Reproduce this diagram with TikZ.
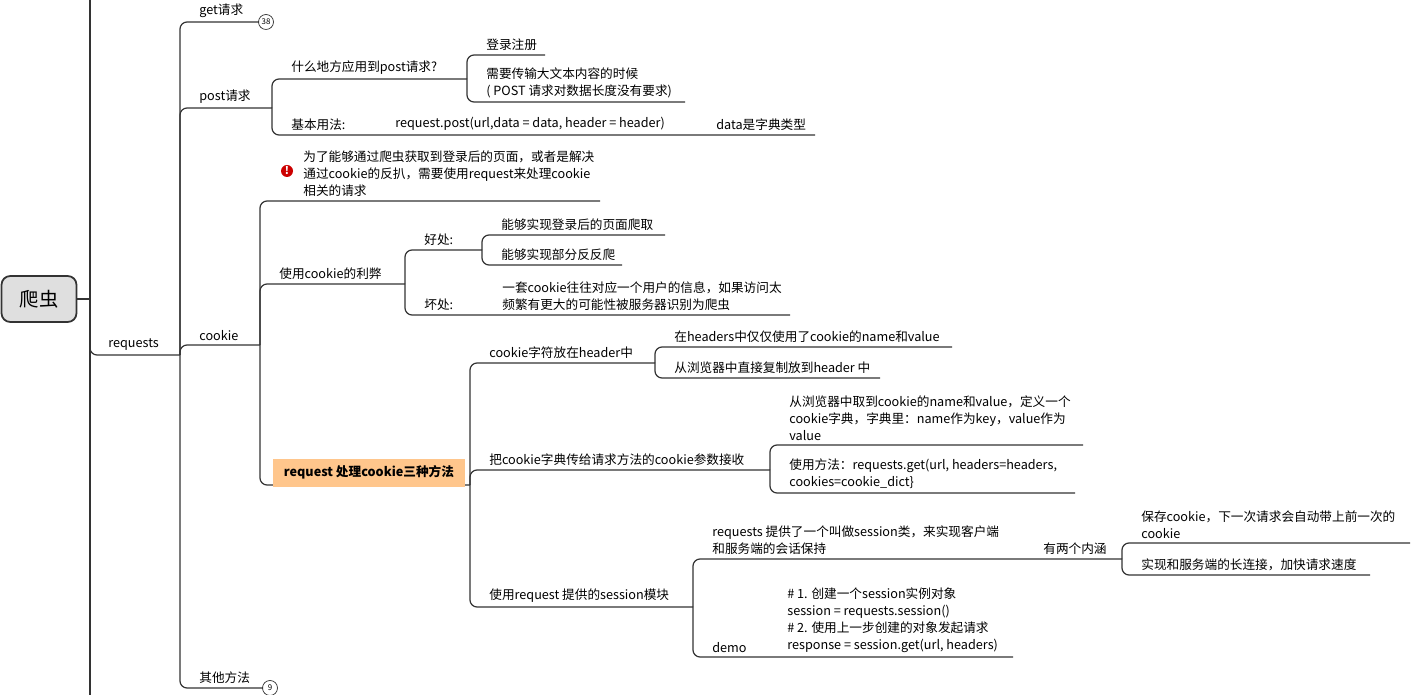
\documentclass[tikz,border=0pt]{standalone}
\usepackage{fontspec}
\setmainfont{Noto Sans CJK SC}
\usetikzlibrary{calc}
\definecolor{ln}{HTML}{333333}
\tikzset{
  conn/.style={draw=ln,line width=0.7pt,rounded corners=4pt},
  lbl/.style={anchor=south west,inner sep=0pt,font=\fontsize{7.2}{9.6}\selectfont,align=left,text=black},
}
\newcommand\br[5]{%
  \coordinate (#2) at (#4,#3);
  \draw[conn] (#1) |- (#2);
  \node[lbl] (#2-t) at ($(#1 |- #2)+(19,-4)$) {#5};}
\begin{document}
\begin{tikzpicture}[x=0.02cm,y=-0.02cm]
\useasboundingbox (0,0) rectangle (1421,695);
% root
\node[draw=ln,line width=1pt,fill=gray!25,rounded corners=5pt,minimum width=1.5cm,minimum height=0.92cm,font=\fontsize{11}{12}\selectfont] (root) at (39,299) {爬虫};
\coordinate (rv) at (90,299);
\draw[conn] (root.east) -- (rv);
\draw[conn] (90,0) -- (90,695);
\coordinate (req) at (180,355);
\draw[conn] (90,300) |- (req);
\node[lbl] (req-t) at (108,351) {requests};
% requests children
\br{req}{get}{22}{259}{get请求}
\node[draw=ln,circle,inner sep=0pt,minimum size=0.3cm,font=\fontsize{4.5}{5}\selectfont] (c38) at (266,22) {38};
\br{req}{post}{108}{272}{post请求}
\br{req}{cookie}{345}{260}{cookie}
\br{req}{other}{688}{263}{其他方法}
\node[draw=ln,circle,inner sep=0pt,minimum size=0.3cm,font=\fontsize{4.5}{5}\selectfont] (c9) at (270,688) {9};
% post
\br{post}{where}{79}{467}{什么地方应用到post请求?}
\br{post}{basic}{135}{815}{基本用法:}
\node[lbl] (rp) at (395,131) {request.post(url,data = data, header = header)};
\node[lbl] (dt) at (716,131) {data是字典类型};
\br{where}{login}{55}{545}{登录注册}
\br{where}{big}{102}{685}{需要传输大文本内容的时候\\( POST 请求对数据长度没有要求)}
% cookie
\coordinate (note) at (600,201);
\draw[conn] (cookie) |- (note);
\node[lbl] (note-t) at (303,197) {为了能够通过爬虫获取到登录后的页面，或者是解决\\通过cookie的反扒，需要使用request来处理cookie\\相关的请求};
\node[circle,fill=red!80!black,inner sep=0pt,minimum size=0.24cm,text=white,font=\fontsize{6}{6}\selectfont\bfseries] (warn) at (287,171) {!};
\br{cookie}{lib}{284}{405}{使用cookie的利弊}
\coordinate (three) at (470,485);
\draw[conn] (cookie) |- (three);
\node[lbl,fill=orange!45,inner xsep=6pt,inner ysep=4pt,font=\fontsize{7.2}{9.6}\selectfont\bfseries] (three-t) at (273,487) {request 处理cookie三种方法};
% lib
\br{lib}{good}{250}{482}{好处:}
\br{lib}{bad}{315}{790}{坏处:}
\node[lbl] (badt) at (502,311) {一套cookie往往对应一个用户的信息，如果访问太\\频繁有更大的可能性被服务器识别为爬虫};
\br{good}{g1}{235}{665}{能够实现登录后的页面爬取}
\br{good}{g2}{265}{622}{能够实现部分反反爬}
% three
\br{three}{m1}{363}{655}{cookie字符放在header中}
\br{three}{m2}{470}{770}{把cookie字典传给请求方法的cookie参数接收}
\br{three}{m3}{607}{693}{使用request 提供的session模块}
\br{m1}{h1}{347}{952}{在headers中仅仅使用了cookie的name和value}
\br{m1}{h2}{378}{880}{从浏览器中直接复制放到header 中}
\br{m2}{d1}{445}{1083}{从浏览器中取到cookie的name和value，定义一个\\cookie字典，字典里：name作为key，value作为\\value}
\br{m2}{d2}{493}{1075}{使用方法：requests.get(url, headers=headers,\\cookies=cookie\_dict\}}
\br{m3}{s1}{559}{1122}{requests 提供了一个叫做session类，来实现客户端\\和服务端的会话保持}
\node[lbl] (two) at (1043,555) {有两个内涵};
\br{m3}{demo}{657}{1013}{demo}
\node[lbl] (code) at (787,653) {\# 1. 创建一个session实例对象\\session = requests.session()\\\# 2. 使用上一步创建的对象发起请求\\response = session.get(url, headers)};
\br{s1}{k1}{543}{1410}{保存cookie，下一次请求会自动带上前一次的\\cookie}
\br{s1}{k2}{575}{1370}{实现和服务端的长连接，加快请求速度}
\end{tikzpicture}
\end{document}
